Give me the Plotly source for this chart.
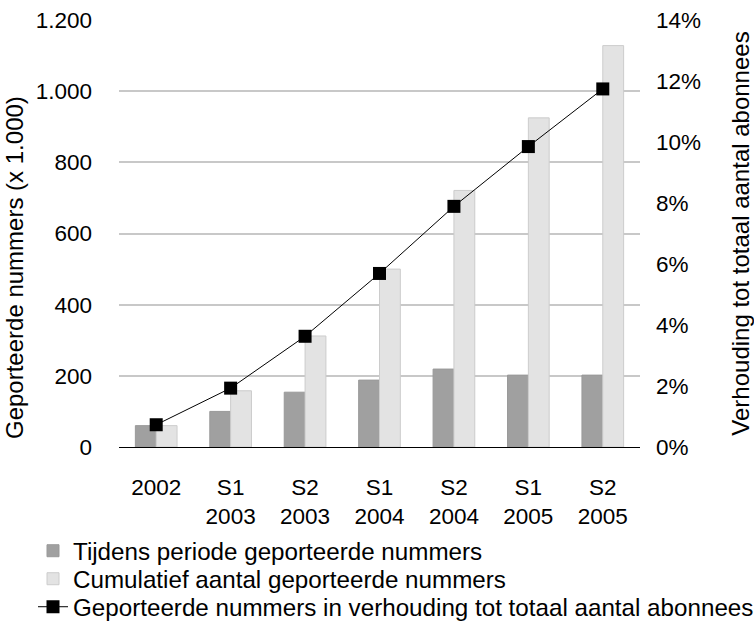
import plotly.graph_objects as go

categories = ["2002", "S1<br>2003", "S2<br>2003", "S1<br>2004", "S2<br>2004", "S1<br>2005", "S2<br>2005"]
period_ported = [60, 100, 154, 188, 219, 202, 202]
cumulative_ported = [60, 158, 312, 500, 721, 925, 1128]
ratio_pct = [0.73, 1.93, 3.63, 5.69, 7.89, 9.85, 11.74]

left_ticks = [0, 200, 400, 600, 800, 1000, 1200]
left_ticktext = ["0", "200", "400", "600", "800", "1.000", "1.200"]
right_ticks = [0, 2, 4, 6, 8, 10, 12, 14]
right_ticktext = [f"{v}%" for v in right_ticks]

left_title = "Geporteerde nummers (x 1.000)"
right_title = "Verhouding tot totaal aantal abonnees"

FONT = "Liberation Sans, Arial, sans-serif"
TICK = 22.5
TITLE = 24
LEG = 24.2

PLOT_L, PLOT_R, PLOT_T, PLOT_B = 119, 640, 20, 447
W, H = 754, 621


def px_x(px):
    return (px - PLOT_L) / (PLOT_R - PLOT_L)


def px_y(py):
    return (PLOT_B - py) / (PLOT_B - PLOT_T)


fig = go.Figure()
fig.add_trace(go.Bar(
    x=categories, y=period_ported, name="Tijdens periode geporteerde nummers",
    marker=dict(color="#a0a0a0", line=dict(color="#999999", width=1)),
    legend="legend",
))
fig.add_trace(go.Bar(
    x=categories, y=cumulative_ported, name="Cumulatief aantal geporteerde nummers",
    marker=dict(color="#e3e3e3", line=dict(color="#cccccc", width=1)),
    legend="legend2",
))
fig.add_trace(go.Scatter(
    x=categories, y=ratio_pct, name="Geporteerde nummers in verhouding tot totaal aantal abonnees",
    yaxis="y2", mode="lines+markers",
    line=dict(color="#000000", width=1),
    marker=dict(symbol="square", size=13, color="#000000"),
    legend="legend3",
))

leg_common = dict(
    orientation="v", xanchor="left", yanchor="middle",
    font=dict(size=LEG, family=FONT, color="#000000"), bgcolor="rgba(0,0,0,0)",
    itemwidth=30,
)

fig.update_layout(
    width=W, height=H,
    margin=dict(l=PLOT_L, r=W - PLOT_R, t=PLOT_T, b=H - PLOT_B, autoexpand=False),
    paper_bgcolor="white", plot_bgcolor="white",
    font=dict(family=FONT, size=TICK, color="#000000"),
    barmode="group", bargap=0.44, bargroupgap=0,
    showlegend=True,
    legend=dict(x=px_x(33), y=px_y(551), **leg_common),
    legend2=dict(x=px_x(33), y=px_y(579), **leg_common),
    legend3=dict(x=px_x(33), y=px_y(607), **leg_common),
    xaxis=dict(
        showgrid=False, showline=True, linecolor="#000000", linewidth=1,
        ticks="", tickfont=dict(size=TICK), ticklabelstandoff=20,
    ),
    yaxis=dict(
        range=[0, 1200], tickvals=left_ticks, ticktext=left_ticktext,
        showgrid=True, gridcolor="#c8c8c8", gridwidth=2,
        zeroline=False, showline=False, ticks="",
        tickfont=dict(size=TICK), ticklabelstandoff=26,
    ),
    yaxis2=dict(
        range=[0, 14], tickvals=right_ticks, ticktext=right_ticktext,
        overlaying="y", side="right", showgrid=False, zeroline=False,
        showline=False, ticks="", tickfont=dict(size=TICK), ticklabelstandoff=15,
        title=dict(text=right_title, font=dict(size=TITLE), standoff=34),
    ),
    annotations=[dict(
        text=left_title, xref="paper", yref="paper",
        x=px_x(14), y=px_y(268), xanchor="center", yanchor="middle",
        textangle=-90, showarrow=False, font=dict(size=TITLE),
    )],
)

fig.write_html(
    "out.html",
    config={"displayModeBar": False},
    post_script="document.body.style.margin='0';",
)
